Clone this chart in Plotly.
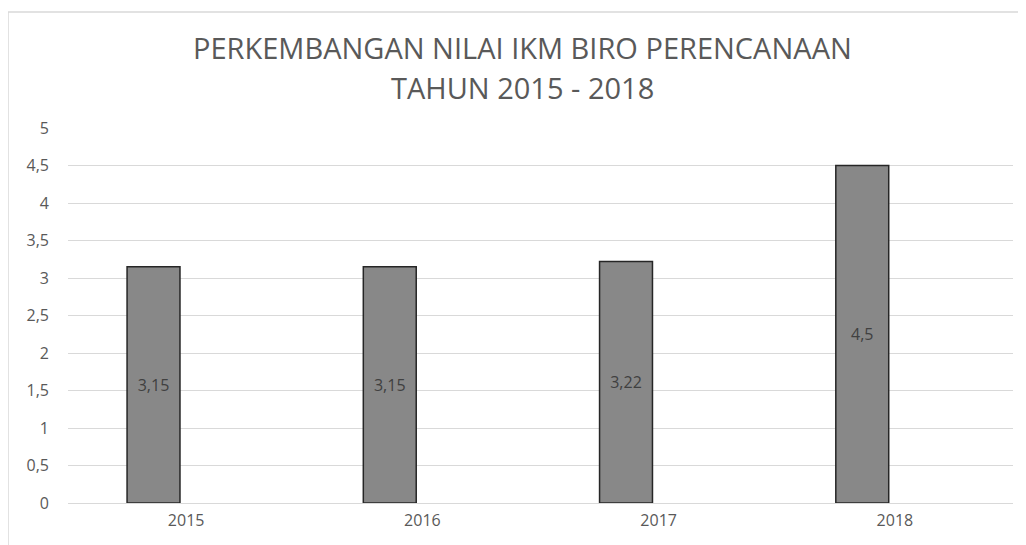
import plotly.graph_objects as go

years = ["2015", "2016", "2017", "2018"]
ikm_values = [3.15, 3.15, 3.22, 4.5]
y_ticks = [0, 0.5, 1, 1.5, 2, 2.5, 3, 3.5, 4, 4.5, 5]
title_lines = ["PERKEMBANGAN NILAI IKM BIRO PERENCANAAN", "TAHUN 2015 - 2018"]

labels = [f"{v:g}".replace(".", ",") for v in ikm_values]
tick_text = [f"{v:g}".replace(".", ",") for v in y_ticks]

# page body has an 8px default margin; work in screen coordinates shifted by it
OFF = 8
W, H = 1026 - OFF, 545 - OFF
L, R, T, B = 68 - OFF, 13, 128 - OFF, 42
pw, ph = W - L - R, H - T - B

def px_x(x):
    return (x - OFF - L) / pw

def px_y(y):
    return (H - B - (y - OFF)) / ph

fig = go.Figure()
fig.add_trace(go.Bar(
    x=years, y=ikm_values,
    width=0.224, offset=-0.25,
    marker=dict(color="#888888", line=dict(color="#262626", width=1.5)),
    text=labels, textposition="inside", insidetextanchor="middle",
    textfont=dict(color="#404040", size=16, family="Open Sans"),
    textangle=0,
))

fig.add_shape(type="line", xref="paper", yref="paper",
              x0=px_x(8), x1=px_x(8), y0=px_y(12), y1=px_y(560),
              line=dict(color="#d9d9d9", width=1.5))
fig.add_shape(type="line", xref="paper", yref="paper",
              x0=px_x(8), x1=px_x(1040), y0=px_y(12), y1=px_y(12),
              line=dict(color="#d9d9d9", width=1.5))

for line_text, yc in zip(title_lines, [47, 87]):
    fig.add_annotation(
        text=line_text, xref="paper", yref="paper",
        x=px_x(522), y=px_y(yc), xanchor="center", yanchor="middle",
        showarrow=False,
        font=dict(family="Open Sans", size=29, color="#595959"),
    )

fig.update_layout(
    width=W, height=H,
    margin=dict(l=L, r=R, t=T, b=B),
    plot_bgcolor="white", paper_bgcolor="white",
    showlegend=False,
    font=dict(family="Open Sans", color="#595959"),
    xaxis=dict(showgrid=False, showline=False, ticks="", automargin=False,
               ticklabelstandoff=6,
               tickfont=dict(size=16, color="#595959")),
    yaxis=dict(range=[0, 5], tickvals=y_ticks, ticktext=tick_text,
               showgrid=True, gridcolor="#d9d9d9", gridwidth=1,
               zeroline=True, zerolinecolor="#d9d9d9", zerolinewidth=1,
               showline=False, ticks="", ticklabelstandoff=18, automargin=False,
               tickfont=dict(size=16, color="#595959")),
)

fig.write_html("out.html")
